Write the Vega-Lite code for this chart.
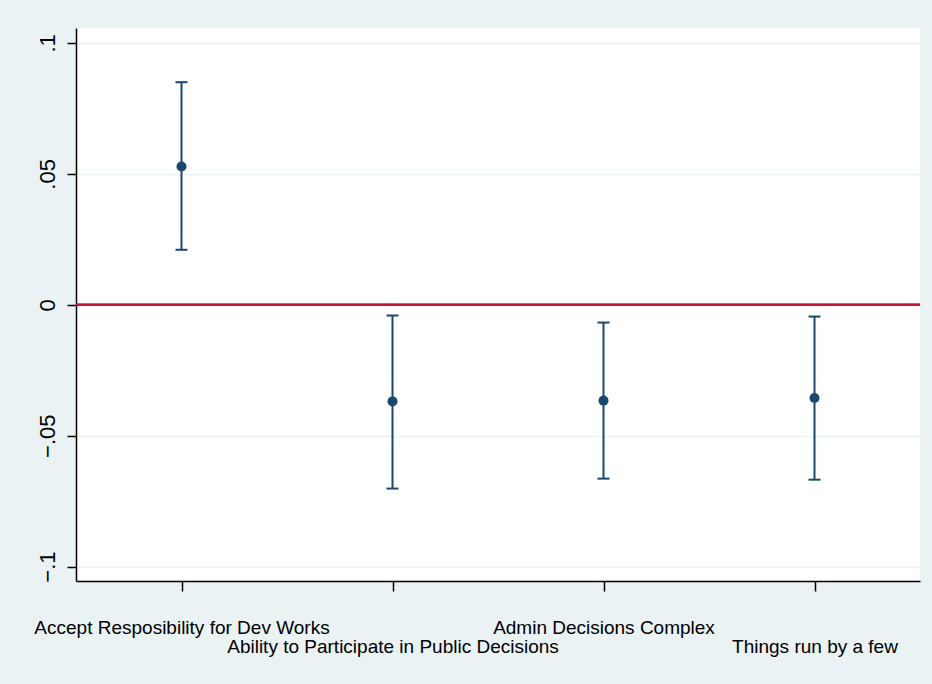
{
  "$schema": "https://vega.github.io/schema/vega-lite/v6.json",
  "width": 844,
  "height": 553,
  "autosize": {"type": "none"},
  "padding": {"left": 76, "top": 28, "right": 12, "bottom": 103},
  "background": "#EAF2F3",
  "config": {
    "view": {"fill": "white", "stroke": null},
    "font": "Liberation Sans"
  },
  "data": {
    "values": [
      {"item": "Accept Resposibility for Dev Works", "est": 0.0528, "lo": 0.0210, "hi": 0.0850},
      {"item": "Ability to Participate in Public Decisions", "est": -0.0369, "lo": -0.0702, "hi": -0.0041},
      {"item": "Admin Decisions Complex", "est": -0.0366, "lo": -0.0664, "hi": -0.0068},
      {"item": "Things run by a few", "est": -0.0356, "lo": -0.0668, "hi": -0.0045}
    ]
  },
  "encoding": {
    "x": {
      "field": "item",
      "type": "nominal",
      "sort": null,
      "scale": {"type": "point", "padding": 0.5},
      "axis": {
        "title": null,
        "labelAngle": 0,
        "labelAlign": "center",
        "labelBaseline": "top",
        "labelFontSize": 19,
        "labelColor": "black",
        "labelPadding": 27,
        "labelLineHeight": 19,
        "labelOverlap": false,
        "labelLimit": 0,
        "labelExpr": "indexof(['Ability to Participate in Public Decisions','Things run by a few'], datum.label) >= 0 ? ['', datum.label] : datum.label",
        "tickSize": 10,
        "tickWidth": 1.5,
        "tickColor": "black",
        "domainColor": "black",
        "domainWidth": 1.5,
        "grid": false
      }
    }
  },
  "layer": [
    {
      "mark": {"type": "rule", "color": "#C8143C", "strokeWidth": 2},
      "encoding": {
        "x": null,
        "y": {
          "datum": 0,
          "type": "quantitative",
          "scale": {"domain": [-0.1055, 0.1057], "nice": false, "zero": false},
          "axis": {
            "title": null,
            "values": [-0.1, -0.05, 0, 0.05, 0.1],
            "labelExpr": "replace(format(datum.value, ''), '0.', '.')",
            "labelAngle": -90,
            "labelAlign": "center",
            "labelBaseline": "bottom",
            "labelFontSize": 22,
            "labelColor": "black",
            "labelPadding": 8,
            "tickSize": 9,
            "tickWidth": 1.5,
            "tickColor": "black",
            "domainColor": "black",
            "domainWidth": 1.5,
            "grid": true,
            "gridColor": "#EAF2F3",
            "gridWidth": 1.5
          }
        }
      }
    },
    {
      "mark": {"type": "rule", "color": "#1A476F", "strokeWidth": 2},
      "encoding": {
        "y": {"field": "lo", "type": "quantitative"},
        "y2": {"field": "hi"}
      }
    },
    {
      "mark": {"type": "tick", "color": "#1A476F", "thickness": 2, "size": 12, "orient": "horizontal", "opacity": 1},
      "encoding": {"y": {"field": "lo", "type": "quantitative"}}
    },
    {
      "mark": {"type": "tick", "color": "#1A476F", "thickness": 2, "size": 12, "orient": "horizontal", "opacity": 1},
      "encoding": {"y": {"field": "hi", "type": "quantitative"}}
    },
    {
      "mark": {"type": "point", "shape": "circle", "filled": true, "color": "#1A476F", "size": 100, "opacity": 1},
      "encoding": {"y": {"field": "est", "type": "quantitative"}}
    }
  ]
}
